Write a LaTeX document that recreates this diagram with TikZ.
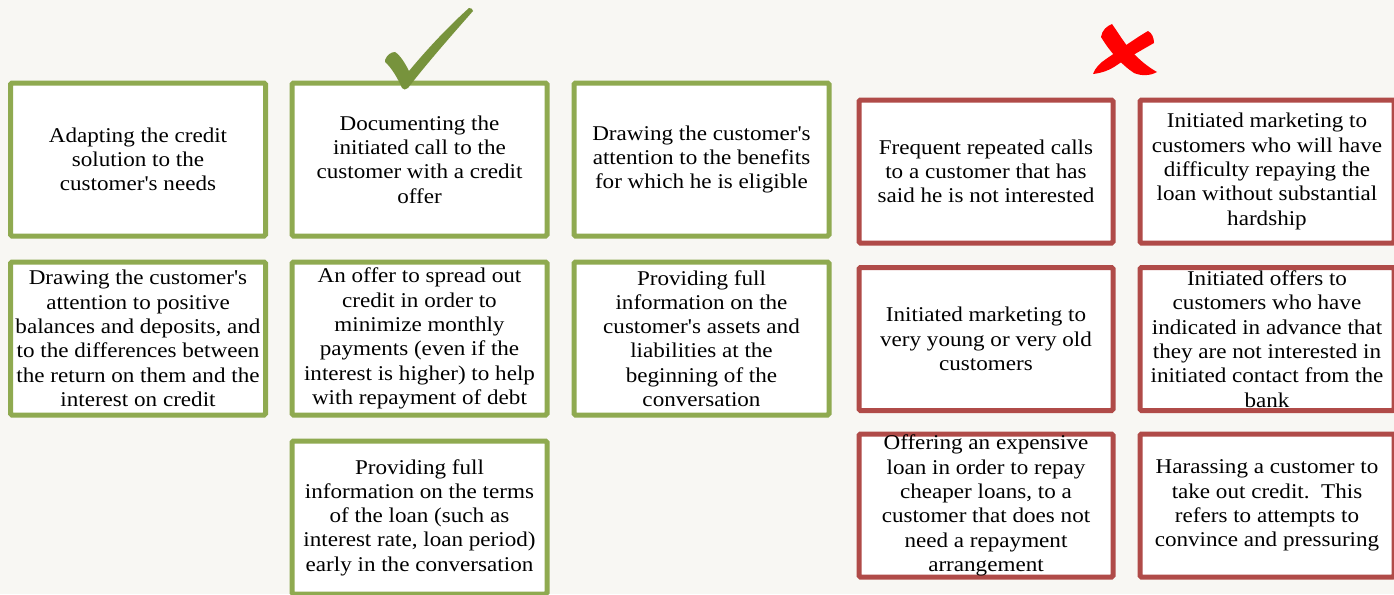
\documentclass[tikz,border=0pt]{standalone}
\usepackage{fontspec}
\setmainfont{Liberation Serif}[FakeStretch=1.10, Ligatures=TeXOff]
\definecolor{bgc}{RGB}{248,247,243}
\definecolor{gline}{RGB}{143,170,80}
\definecolor{rline}{RGB}{176,75,72}
\definecolor{checkc}{RGB}{119,147,60}
\definecolor{xred}{RGB}{255,0,0}
\tikzset{
  card/.style={draw, fill=white, line width=5pt, rounded corners=1.5pt, align=center,
    inner sep=0pt, font=\fontsize{21}{24.3}\selectfont, text=black},
  gbox/.style={card, draw=gline, minimum width=255pt, minimum height=153pt},
  rbox/.style={card, draw=rline, minimum width=254pt, minimum height=143pt},
}
\begin{document}
\begin{tikzpicture}[x=1pt,y=-1pt]
\fill[bgc] (0,0) rectangle (1394,594);
\useasboundingbox (0,0) rectangle (1394,594);

% good practices (green)
\node[gbox] (g1) at (138,159.5) {Adapting the credit\\solution to the\\customer's needs};
\node[gbox] (g2) at (419.5,159.5) {Documenting the\\initiated call to the\\customer with a credit\\offer};
\node[gbox] (g3) at (701.5,159.5) {Drawing the customer's\\attention to the benefits\\for which he is eligible};
\node[gbox] (g4) at (138,338.5) {Drawing the customer's\\attention to positive\\balances and deposits, and\\to the differences between\\the return on them and the\\interest on credit};
\node[gbox] (g5) at (419.5,338.5) {An offer to spread out\\credit in order to\\minimize monthly\\payments (even if the\\interest is higher) to help\\with repayment of debt};
\node[gbox] (g6) at (701.5,338.5) {Providing full\\information on the\\customer's assets and\\liabilities at the\\beginning of the\\conversation};
\node[gbox] (g7) at (419.5,517.5) {Providing full\\information on the terms\\of the loan (such as\\interest rate, loan period)\\early in the conversation};

% bad practices (red)
\node[rbox] (r1) at (986,171.5) {Frequent repeated calls\\to a customer that has\\said he is not interested};
\node[rbox] (r2) at (1267,171.5) {Initiated marketing to\\customers who will have\\difficulty repaying the\\loan without substantial\\hardship};
\node[rbox] (r3) at (986,339) {Initiated marketing to\\very young or very old\\customers};
\node[rbox] (r4) at (1267,339) {Initiated offers to\\customers who have\\indicated in advance that\\they are not interested in\\initiated contact from the\\bank};
\node[rbox] (r5) at (986,505.5) {Offering an expensive\\loan in order to repay\\cheaper loans, to a\\customer that does not\\need a repayment\\arrangement};
\node[rbox] (r6) at (1267,505.5) {Harassing a customer to\\take out credit.\ \ This\\refers to attempts to\\convince and pressuring};

% check mark
\fill[checkc] (385,60) .. controls (387,55) and (391,52) .. (395,52)
  .. controls (400,55) and (405,63) .. (409,71)
  .. controls (428,48) and (450,25) .. (469,8)
  .. controls (471,8) and (473,9) .. (473,11)
  .. controls (452,35) and (428,62) .. (408,88)
  .. controls (406,90) and (403,90) .. (402,88)
  .. controls (398,79) and (392,68) .. (385,62) -- cycle;

% cross mark
\fill[xred] (1101,37) .. controls (1102,30) and (1107,26) .. (1112,24)
  .. controls (1119,34) and (1126,46) .. (1135,55)
  .. controls (1143,63) and (1150,68) .. (1157,72)
  .. controls (1150,76) and (1141,76) .. (1134,73)
  .. controls (1122,65) and (1110,52) .. (1101,37) -- cycle;
\fill[xred] (1148,31) .. controls (1152,33) and (1154,38) .. (1154,43)
  .. controls (1140,51) and (1126,59) .. (1117,65)
  .. controls (1110,70) and (1102,73) .. (1093,74)
  .. controls (1095,68) and (1100,63) .. (1106,59)
  .. controls (1118,51) and (1134,39) .. (1148,31) -- cycle;
\end{tikzpicture}
\end{document}
